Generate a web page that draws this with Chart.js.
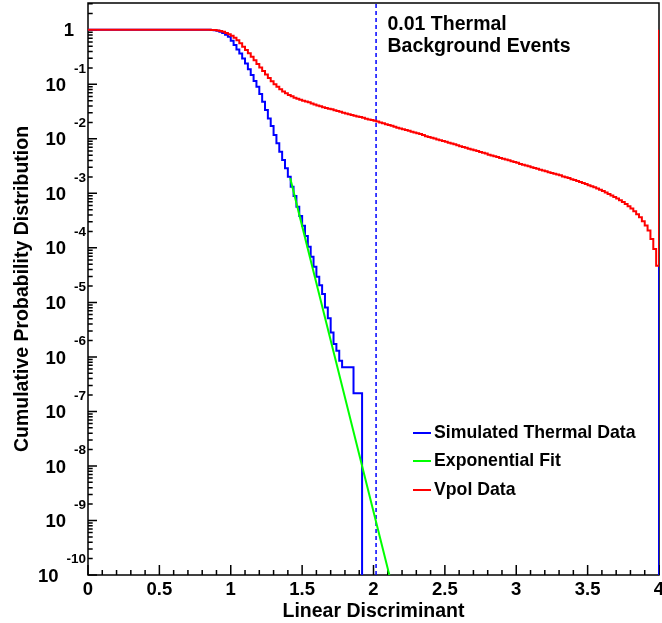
<!DOCTYPE html>
<html lang="en">
<head>
  <meta charset="UTF-8">
  <title>Cumulative Probability Distribution</title>
  <script src="https://cdn.jsdelivr.net/npm/chart.js"></script>
  <style>
    html, body {
      margin: 0;
      padding: 0;
      background: #fff;
    }
    canvas {
      display: block;
    }
  </style>
</head>
<body>

<canvas id="cdfChart" width="662" height="623"></canvas>

<script>
  // Binning of the Linear Discriminant axis
  const binWidth = 0.02;
  const xMin = 0;
  const xMax = 4;
  const yMin = 1e-10;
  const yMax = 3.1;

  // Vpol data: cumulative fraction per bin (200 bins from 0 to 4)
  const vpolData = [
    1, 1, 1, 1, 1, 1, 1, 1, 1, 1,
    1, 1, 1, 1, 1, 1, 1, 1, 1, 1,
    1, 1, 1, 1, 1, 1, 1, 1, 1, 1,
    1, 1, 1, 1, 1, 1, 1, 1, 1, 1,
    1, 1, 1, 0.995, 0.986, 0.973, 0.951, 0.916, 0.875, 0.828,
    0.776, 0.716, 0.646, 0.569, 0.490, 0.427, 0.372, 0.320, 0.275, 0.237,
    0.204, 0.176, 0.151, 0.130, 0.1135, 0.100, 0.0902, 0.0813, 0.0741, 0.0684,
    0.0638, 0.0603, 0.0569, 0.0543, 0.0519, 0.0501, 0.0484, 0.0468, 0.0447, 0.0427,
    0.0407, 0.0394, 0.0380, 0.0367, 0.0355, 0.0347, 0.0335, 0.0324, 0.0313, 0.0302,
    0.0292, 0.0282, 0.0275, 0.0266, 0.0257, 0.0251, 0.0243, 0.0234, 0.0226, 0.0221,
    0.0214, 0.0207, 0.0200, 0.0193, 0.0186, 0.0180, 0.0174, 0.0166, 0.0160, 0.0155,
    0.0150, 0.0145, 0.0140, 0.0135, 0.0130, 0.0126, 0.0122, 0.0117, 0.0112, 0.0108,
    0.0105, 0.0101, 0.00977, 0.00944, 0.00912, 0.00881, 0.00851, 0.00822, 0.00794, 0.00759,
    0.00733, 0.00708, 0.00684, 0.00661, 0.00638, 0.00617, 0.00596, 0.00575, 0.00556, 0.00537,
    0.00513, 0.00495, 0.00479, 0.00462, 0.00447, 0.00432, 0.00417, 0.00403, 0.00389, 0.00376,
    0.00363, 0.00347, 0.00335, 0.00324, 0.00313, 0.00302, 0.00292, 0.00282, 0.00272, 0.00263,
    0.00254, 0.00245, 0.00237, 0.00229, 0.00221, 0.00214, 0.00204, 0.00197, 0.00191, 0.00182,
    0.00176, 0.00168, 0.00162, 0.00155, 0.00148, 0.00141, 0.00135, 0.00129, 0.00123, 0.00116,
    0.00110, 0.00104, 0.000977, 0.000912, 0.000861, 0.000804, 0.000750, 0.000692, 0.000638, 0.000582,
    0.000525, 0.000468, 0.000412, 0.000363, 0.000309, 0.000257, 0.000209, 0.000145, 0.0000955, 0.0000468
  ];

  // Simulated thermal data: cumulative fraction per bin (empty from 1.92 on)
  const thermalData = [
    1, 1, 1, 1, 1, 1, 1, 1, 1, 1,
    1, 1, 1, 1, 1, 1, 1, 1, 1, 1,
    1, 1, 1, 1, 1, 1, 1, 1, 1, 1,
    1, 1, 1, 1, 1, 1, 1, 1, 1, 1,
    1, 1, 1, 0.993, 0.982, 0.959, 0.923, 0.871, 0.813, 0.745,
    0.630, 0.525, 0.437, 0.369, 0.299, 0.242, 0.188, 0.148, 0.115, 0.0902,
    0.0662, 0.0479, 0.0337, 0.0237, 0.0172, 0.0117, 0.00826, 0.00581, 0.00408, 0.00288,
    0.00202, 0.00132, 0.000893, 0.000569, 0.000385, 0.000255, 0.000165, 0.000105, 6.90e-5, 4.52e-5,
    2.96e-5, 2.06e-5, 1.43e-5, 8.02e-6, 5.12e-6, 2.79e-6, 1.73e-6, 1.30e-6, 8.55e-7, 6.47e-7,
    6.47e-7, 6.47e-7, 6.47e-7, 2.15e-7, 2.15e-7, 2.15e-7
  ];

  // Exponential fit (straight line on log scale) end points
  const fitX = [1.416, 2.111];
  const fitY = [1.91e-3, 1.0e-10];

  // Cut giving 0.01 thermal background events
  const cutX = 2.018;

  // Axis tick labels
  const xTickValues = [0, 0.5, 1, 1.5, 2, 2.5, 3, 3.5, 4];
  const xTickLabels = ['0', '0.5', '1', '1.5', '2', '2.5', '3', '3.5', '4'];
  const yTickExponents = [0, -1, -2, -3, -4, -5, -6, -7, -8, -9, -10];

  // Legend and note
  const legendLabels = ['Simulated Thermal Data', 'Exponential Fit', 'Vpol Data'];
  const legendColors = ['#0000ff', '#00ff00', '#ff0000'];
  const noteLines = ['0.01 Thermal', 'Background Events'];

  const FONT = '"Liberation Sans", Arial, Helvetica, sans-serif';
  const EMPTY = 1e-12; // empty bins sit below the log axis

  // Build step outline of a histogram, closing on the right edge
  function histPoints(values, closeY) {
    const pts = [];
    const nBins = Math.round((xMax - xMin) / binWidth);
    for (let i = 0; i < nBins; i++) {
      const v = i < values.length ? values[i] : 0;
      pts.push({ x: +(xMin + i * binWidth).toFixed(2), y: v > 0 ? v : EMPTY });
    }
    pts.push({ x: xMax, y: closeY });
    return pts;
  }

  // Frame and inward ticks, ROOT style
  const framePlugin = {
    id: 'frame',
    beforeDatasetsDraw(chart) {
      const { ctx, chartArea: a, scales: { x, y } } = chart;
      ctx.save();
      ctx.strokeStyle = '#000';
      ctx.lineWidth = 1.5;
      ctx.strokeRect(a.left, a.top, a.right - a.left, a.bottom - a.top);
      ctx.beginPath();
      for (let i = 0; i <= 40; i++) {
        const px = x.getPixelForValue(i / 10);
        ctx.moveTo(px, a.bottom);
        ctx.lineTo(px, a.bottom - (i % 5 === 0 ? 10 : 5));
      }
      for (let e = -10; e <= 0; e++) {
        for (let m = 1; m <= 9; m++) {
          const v = m * Math.pow(10, e);
          if (v > yMax) break;
          const py = y.getPixelForValue(v);
          ctx.moveTo(a.left, py);
          ctx.lineTo(a.left + (m === 1 ? 9 : 4.7), py);
        }
      }
      ctx.stroke();
      ctx.restore();
    },
    afterDraw(chart) {
      const { ctx, chartArea: a, scales: { x, y } } = chart;
      ctx.save();
      ctx.fillStyle = '#000';

      // y tick labels with superscript exponents
      ctx.textAlign = 'right';
      ctx.textBaseline = 'middle';
      yTickExponents.forEach(e => {
        const py = y.getPixelForValue(Math.pow(10, e));
        if (e === 0) {
          ctx.font = 'bold 18.5px ' + FONT;
          ctx.fillText('1', 74, py + 1.5);
          return;
        }
        const exp = String(e);
        ctx.font = 'bold 13.5px ' + FONT;
        const w = ctx.measureText(exp).width;
        ctx.fillText(exp, 86, py - 15.5);
        ctx.font = 'bold 18.5px ' + FONT;
        ctx.fillText('10', 86 - w - 8, py + 1.5);
      });

      // x tick labels
      ctx.textAlign = 'center';
      ctx.font = 'bold 18.5px ' + FONT;
      xTickValues.forEach((v, i) => {
        ctx.fillText(xTickLabels[i], x.getPixelForValue(v), 590);
      });

      // axis titles
      ctx.textBaseline = 'alphabetic';
      ctx.font = 'bold 19.5px ' + FONT;
      ctx.fillText('Linear Discriminant', (a.left + a.right) / 2, 617);
      ctx.save();
      ctx.translate(28.3, (a.top + a.bottom) / 2);
      ctx.rotate(-Math.PI / 2);
      ctx.fillText('Cumulative Probability Distribution', 0, 0);
      ctx.restore();

      // note next to the cut
      ctx.textAlign = 'left';
      ctx.fillText(noteLines[0], 387.5, 30);
      ctx.fillText(noteLines[1], 387.5, 51.5);

      // legend
      const rows = [433, 461, 490];
      ctx.font = 'bold 17.7px ' + FONT;
      ctx.textBaseline = 'middle';
      ctx.lineWidth = 2;
      legendLabels.forEach((label, i) => {
        ctx.strokeStyle = legendColors[i];
        ctx.beginPath();
        ctx.moveTo(413, rows[i]);
        ctx.lineTo(431, rows[i]);
        ctx.stroke();
        ctx.fillText(label, 434, rows[i]);
      });
      ctx.restore();
    }
  };

  const ctx = document.getElementById('cdfChart').getContext('2d');
  new Chart(ctx, {
    type: 'line',
    data: {
      datasets: [
        {
          label: 'Exponential Fit',
          data: fitX.map((v, i) => ({ x: v, y: fitY[i] })),
          borderColor: '#00ff00',
          borderWidth: 2,
          pointRadius: 0
        },
        {
          label: 'Vpol Data',
          data: histPoints(vpolData, 1),
          borderColor: '#ff0000',
          borderWidth: 2,
          pointRadius: 0,
          stepped: 'before'
        },
        {
          label: 'Simulated Thermal Data',
          data: histPoints(thermalData, vpolData[vpolData.length - 1]),
          borderColor: '#0000ff',
          borderWidth: 2,
          pointRadius: 0,
          stepped: 'before'
        },
        {
          label: 'Cut',
          data: [{ x: cutX, y: yMin }, { x: cutX, y: yMax }],
          borderColor: '#0000ff',
          borderWidth: 1.5,
          borderDash: [4, 3],
          pointRadius: 0
        }
      ]
    },
    options: {
      responsive: false,
      animation: false,
      events: [],
      layout: {
        padding: { left: 88, top: 3, right: 3, bottom: 48 }
      },
      scales: {
        x: { type: 'linear', min: xMin, max: xMax, display: false },
        y: { type: 'logarithmic', min: yMin, max: yMax, display: false }
      },
      plugins: {
        legend: { display: false },
        tooltip: { enabled: false }
      }
    },
    plugins: [framePlugin]
  });
</script>

</body>
</html>
